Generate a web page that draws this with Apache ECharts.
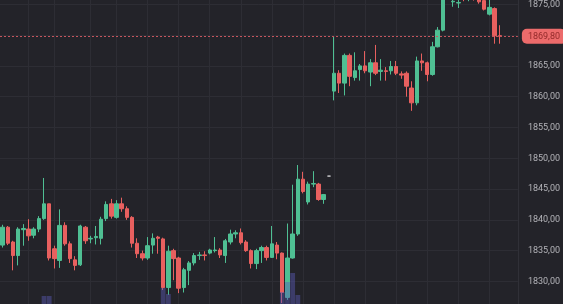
<!DOCTYPE html>
<html>
<head>
<meta charset="utf-8">
<script src="https://cdn.jsdelivr.net/npm/echarts@6/dist/echarts.min.js"></script>
<style>
html,body{margin:0;padding:0;background:#232329;overflow:hidden;width:563px;height:304px;position:relative;}
#c{position:absolute;left:0;top:-31px;width:563px;height:374px;}
</style>
</head>
<body>
<div id="c"></div>
<script>
// [open, close, low, high]
const ohlc = [
[1835.9,1838.8,1835.5,1839.2],[1838.8,1836.2,1835.9,1839.0],[1836.4,1834.2,1831.8,1836.6],[1834.2,1838.5,1832.6,1838.8],
[1838.4,1838.6,1835.8,1839.3],[1838.5,1837.4,1836.6,1840.1],[1837.5,1838.5,1837.0,1838.8],[1838.5,1840.2,1838.0,1840.6],
[1840.2,1842.6,1840.0,1846.8],[1842.6,1833.8,1833.4,1842.6],[1835.3,1833.7,1832.1,1835.8],[1833.4,1839.1,1832.2,1841.7],
[1839.1,1836.1,1835.8,1839.6],[1836.1,1833.7,1833.0,1836.5],[1833.5,1832.6,1831.8,1834.1],[1832.7,1839.0,1832.5,1839.2],
[1838.8,1836.6,1836.1,1839.0],[1836.9,1837.0,1836.2,1837.4],[1837.1,1837.3,1836.0,1839.0],[1837.0,1840.1,1836.0,1840.5],
[1840.2,1842.5,1839.8,1843.0],[1842.6,1840.6,1840.2,1843.4],[1840.4,1842.6,1840.2,1843.2],[1842.6,1841.8,1841.3,1843.6],
[1841.8,1840.4,1840.0,1842.2],[1840.4,1836.2,1835.5,1840.6],[1836.2,1834.5,1833.8,1837.0],[1834.5,1833.8,1833.4,1835.0],
[1833.8,1835.8,1833.5,1837.2],[1835.9,1837.0,1834.5,1837.8],[1837.2,1837.0,1834.5,1837.4],[1836.9,1829.0,1828.6,1837.1],
[1829.0,1834.9,1827.8,1835.8],[1835.0,1833.7,1830.2,1835.3],[1833.8,1828.9,1828.1,1834.0],[1829.0,1831.9,1828.2,1832.2],
[1831.8,1833.0,1829.4,1833.3],[1833.0,1834.2,1832.6,1834.6],[1834.2,1834.3,1833.5,1834.8],[1834.3,1834.2,1833.4,1834.9],
[1834.6,1835.1,1834.4,1835.3],[1835.0,1835.1,1834.7,1837.2],[1835.1,1834.3,1833.8,1835.4],[1834.2,1836.6,1833.0,1836.9],
[1836.4,1837.7,1836.0,1838.4],[1837.7,1837.9,1837.0,1838.3],[1837.9,1836.3,1836.0,1838.6],[1836.4,1835.0,1834.8,1836.7],
[1835.0,1832.9,1832.1,1835.2],[1832.9,1835.0,1832.0,1835.3],[1835.0,1835.5,1833.0,1835.8],[1835.5,1833.9,1833.4,1835.8],
[1833.9,1836.1,1833.8,1839.0],[1835.9,1834.6,1833.6,1836.4],[1834.6,1828.2,1826.5,1834.7],[1827.4,1833.8,1827.0,1839.4],
[1833.8,1837.7,1833.7,1845.7],[1837.7,1846.6,1837.4,1848.9],[1846.6,1844.6,1844.3,1847.8],[1842.9,1845.8,1842.5,1846.2],
[1845.8,1845.9,1845.3,1847.9],[1845.8,1843.3,1843.1,1846.0],[1843.3,1844.1,1842.6,1844.2],[1847.1,1847.1,1847.1,1847.1],
[1860.9,1863.8,1859.4,1869.7],[1863.8,1862.2,1860.6,1864.3],[1862.2,1866.7,1860.2,1867.0],[1866.7,1863.3,1861.7,1867.0],
[1863.1,1864.2,1862.6,1867.2],[1864.4,1865.0,1862.6,1865.3],[1865.0,1864.2,1863.8,1867.4],[1864.0,1865.5,1861.7,1866.1],
[1865.5,1863.8,1863.5,1868.4],[1864.1,1864.3,1862.6,1866.1],[1864.2,1864.1,1862.6,1864.8],[1864.2,1864.9,1863.6,1865.8],
[1864.9,1863.8,1863.5,1865.8],[1863.7,1863.5,1862.9,1864.1],[1863.8,1861.7,1860.0,1864.1],[1861.4,1859.0,1857.7,1862.5],
[1859.0,1865.8,1858.6,1866.5],[1865.8,1865.5,1864.2,1867.0],[1865.5,1863.6,1862.5,1865.7],[1863.6,1868.1,1863.4,1868.9],
[1868.1,1870.8,1868.0,1871.3],[1870.8,1876.0,1870.6,1877.0],[1876.0,1877.5,1875.8,1878.0],[1875.4,1875.5,1874.6,1876.5],
[1875.2,1875.3,1874.4,1876.0],[1877.0,1876.0,1875.5,1877.5],[1876.0,1877.0,1875.5,1877.8],[1877.0,1876.2,1875.6,1877.6],
[1876.5,1875.4,1875.1,1877.0],[1875.6,1874.2,1874.0,1876.0],[1873.4,1874.5,1873.2,1875.8],[1874.3,1869.9,1868.6,1874.5],
[1869.9,1869.8,1868.6,1871.6]
];
const volumes = [
5,4,5,6,4,4,3,5,16,16,6,7,5,5,4,6,4,3,3,4,
5,4,4,3,3,6,5,3,4,3,3,24,18,6,7,5,4,3,2,2,
3,3,2,4,3,2,3,4,5,4,3,4,5,5,20,30,39,17,6,5,
3,4,3,2,7,5,6,5,3,3,3,3,4,2,2,3,2,2,4,6,
7,3,4,6,5,7,5,3,3,4,3,3,3,4,4,6,4
];
const volumeMax = 112;
const slots = 100;
const categories = Array.from({length: slots}, (_, i) => String(i + 1));
const yTicks = {min: 1820, max: 1880, step: 5, firstShown: 1830};
const lastPrice = 1869.80;
const gridLineIdx = [5, 10, 17, 22, 28, 34, 40, 46, 52, 58, 64, 70, 76, 82, 88, 94];

const UP = '#4fbf93', DOWN = '#e8605f';
const fmt = v => v.toFixed(2).replace('.', ',');

const chart = echarts.init(document.getElementById('c'), null, {renderer: 'canvas'});
chart.setOption({
  backgroundColor: '#232329',
  animation: false,
  grid: [
    {left: 0, right: 45, top: 0, bottom: 0},
    {left: 0, right: 45, top: 231, bottom: 31}
  ],
  xAxis: [
    {type: 'category', data: categories, gridIndex: 0, boundaryGap: true,
     axisLine: {show: false}, axisTick: {show: false}, axisLabel: {show: false},
     splitLine: {show: true, alignWithLabel: true,
       interval: (idx) => gridLineIdx.indexOf(idx) >= 0,
       lineStyle: {color: '#2d2d34', width: 1}}},
    {type: 'category', data: categories, gridIndex: 1, boundaryGap: true,
     axisLine: {show: false}, axisTick: {show: false}, axisLabel: {show: false}, splitLine: {show: false}}
  ],
  yAxis: [
    {type: 'value', gridIndex: 0, position: 'right', min: yTicks.min, max: yTicks.max, interval: yTicks.step,
     axisLine: {show: true, lineStyle: {color: '#303037'}}, axisTick: {show: false},
     axisLabel: {color: '#b4b4b9', fontSize: 9, fontFamily: 'Roboto', margin: 10,
                 formatter: v => (v < yTicks.firstShown ? '' : fmt(v))},
     splitLine: {show: true, lineStyle: {color: '#2d2d34', width: 1}}},
    {type: 'value', gridIndex: 1, min: 0, max: volumeMax, show: false}
  ],
  series: [
    {type: 'candlestick', xAxisIndex: 0, yAxisIndex: 0, data: ohlc, barWidth: '76%',
     itemStyle: {color: UP, color0: DOWN, borderColor: UP, borderColor0: DOWN, borderColorDoji: '#c8c8cc', borderWidth: 1},
     markLine: {
       silent: true, symbol: ['none', 'none'],
       lineStyle: {color: '#c4555d', type: [2, 2], width: 1},
       label: {position: 'end', formatter: () => fmt(lastPrice), color: '#932a2a', fontSize: 9, fontFamily: 'Roboto',
               backgroundColor: '#ec6b6b', padding: [3, 6, 3, 6], borderRadius: 5, distance: 4},
       data: [{yAxis: lastPrice}]
     }},
    {type: 'bar', xAxisIndex: 1, yAxisIndex: 1, data: volumes, barCategoryGap: '8%', z: 3,
     itemStyle: {color: 'rgba(92, 92, 185, 0.45)'}}
  ]
});
</script>
</body>
</html>
